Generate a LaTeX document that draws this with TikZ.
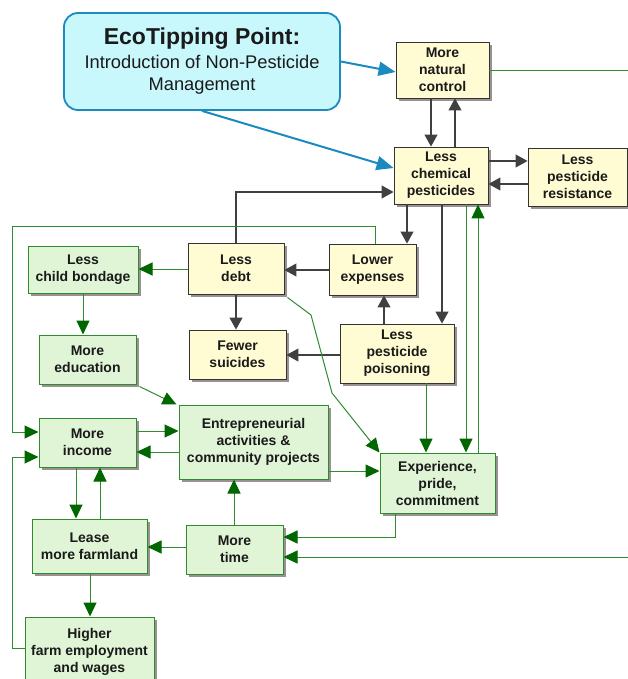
\documentclass[tikz,border=0pt]{standalone}
\usepackage{fontspec}
\setmainfont{Liberation Sans}
\usetikzlibrary{arrows.meta,shadows}
\definecolor{yfill}{HTML}{FFFBD2}
\definecolor{gfill}{HTML}{E0F5D6}
\definecolor{gborder}{HTML}{2E8B2E}
\definecolor{gline}{HTML}{2E8B2E}
\definecolor{ghead}{HTML}{006600}
\definecolor{dline}{HTML}{404040}
\definecolor{bline}{HTML}{1A8ABF}
\definecolor{ecofill}{HTML}{C8F8FC}
\definecolor{shadowc}{HTML}{9A9292}
\definecolor{txt}{HTML}{1A1A1A}
\begin{document}
\begin{tikzpicture}[x=1pt,y=-1pt,
  box/.style={rectangle, inner sep=0pt, align=center, text=txt,
    font=\fontsize{14}{17}\selectfont\bfseries,
    drop shadow={shadow xshift=3pt,shadow yshift=-3pt,fill=shadowc,opacity=1}},
  ybox/.style={box, fill=yfill, draw=black!80, line width=0.9pt},
  gbox/.style={box, fill=gfill, draw=gborder, line width=1pt},
  darr/.style={draw=dline, line width=1.1pt, -{Triangle[length=12pt,width=13pt]}},
  garr/.style={draw=gline, line width=1pt, -{Triangle[length=14pt,width=13pt,color=ghead]}},
  gplain/.style={draw=gline, line width=1pt},
  barr/.style={draw=bline, line width=2pt, -{Triangle[length=17pt,width=14pt]}}
]
\useasboundingbox (0,0) rectangle (628,679);
\clip (0,0) rectangle (628,679);

% callout
\node[draw=bline, fill=ecofill, rounded corners=14pt, line width=1.8pt,
  minimum width=276pt, minimum height=97pt, inner sep=0pt, align=center,
  text=txt, font=\fontsize{18.3}{22}\selectfont] (eco) at (202,61.5)
  {{\fontsize{23}{25}\selectfont\bfseries EcoTipping Point:}\\[2pt]Introduction of Non-Pesticide\\Management};

% yellow nodes
\node[ybox, minimum width=93pt, minimum height=56pt] (nat) at (442.5,70) {More\\natural\\control};
\node[ybox, minimum width=94pt, minimum height=57pt] (chem) at (441,175.5) {Less\\chemical\\pesticides};
\node[ybox, minimum width=99pt, minimum height=58pt] (res) at (577.5,177) {Less\\pesticide\\resistance};
\node[ybox, minimum width=96pt, minimum height=51pt] (debt) at (236,268.5) {Less\\debt};
\node[ybox, minimum width=87pt, minimum height=51pt] (exp) at (372.5,269.5) {Lower\\expenses};
\node[ybox, minimum width=97pt, minimum height=49pt] (sui) at (237.5,354.5) {Fewer\\suicides};
\node[ybox, minimum width=114pt, minimum height=59pt] (pois) at (397,353.5) {Less\\pesticide\\poisoning};

% green nodes
\node[gbox, minimum width=110pt, minimum height=47pt] (child) at (83,269.5) {Less\\child bondage};
\node[gbox, minimum width=97pt, minimum height=49pt] (edu) at (87.5,359.5) {More\\education};
\node[gbox, minimum width=97pt, minimum height=49pt] (inc) at (87.5,442.5) {More\\income};
\node[gbox, minimum width=149pt, minimum height=74pt] (ent) at (253.5,442) {Entrepreneurial\\activities \&\\community projects};
\node[gbox, minimum width=115pt, minimum height=60pt] (expc) at (437.5,483) {Experience,\\pride,\\commitment};
\node[gbox, minimum width=115pt, minimum height=54pt] (lease) at (89.5,546) {Lease\\more farmland};
\node[gbox, minimum width=97pt, minimum height=49pt] (time) at (234.5,549.5) {More\\time};
\node[gbox, minimum width=129pt, minimum height=70pt] (high) at (89.5,652) {Higher\\farm employment\\and wages};

\coordinate (rt) at (628,71);
\coordinate (rb) at (628,557);

% blue arrows
\draw[barr] (eco.east) -- (nat.west |- 0,72);
\draw[barr] (eco.south) -- (chem.west |- 0,168);

% dark arrows
\draw[darr] (nat.south -| 431,0) -- (chem.north -| 431,0);
\draw[darr] (chem.north -| 455,0) -- (nat.south -| 455,0);
\draw[darr] (chem.east |- 0,161) -- (res.west |- 0,161);
\draw[darr] (res.west |- 0,184) -- (chem.east |- 0,184);
\draw[darr] (debt.north) |- (chem.west |- 0,192);
\draw[darr] (chem.south -| 407,0) -- (exp.north -| 407,0);
\draw[darr] (chem.south -| 442,0) -- (pois.north -| 442,0);
\draw[darr] (exp.west |- 0,270) -- (debt.east |- 0,270);
\draw[darr] (pois.north -| 384,0) -- (exp.south -| 384,0);
\draw[darr] (pois.west |- 0,355) -- (sui.east |- 0,355);
\draw[darr] (debt.south) -- (sui.north -| debt.south);

% green arrows
\draw[garr] (pois.south -| 426,0) -- (expc.north -| 426,0);
\draw[garr] (chem.south -| 466,0) -- (expc.north -| 466,0);
\draw[garr] (expc.north -| 478,0) -- (chem.south -| 478,0);
\draw[garr] (debt.west |- 0,269) -- (child.east |- 0,269);
\draw[garr] (child.south -| 83,0) -- (edu.north -| 83,0);
\draw[garr] ([xshift=3pt,yshift=-2pt]edu.south east) -- ([xshift=-2pt]ent.north west);
\draw[garr] (exp.north -| 375,0) -- (375,226) -- (12,226) |- (inc.west |- 0,432);
\draw[garr] ([xshift=3pt,yshift=-3pt]debt.south east) -- (311,315) -- (332,393) -- (expc.north west);
\draw[garr] (inc.east |- 0,431) -- (ent.west |- 0,431);
\draw[garr] (ent.west |- 0,452) -- (inc.east |- 0,452);
\draw[garr] (ent.east |- 0,471) -- (expc.west |- 0,471);
\draw[garr] (inc.south -| 76,0) -- (lease.north -| 76,0);
\draw[garr] (lease.north -| 100,0) -- (inc.south -| 100,0);
\draw[garr] (time.west |- 0,547) -- (lease.east |- 0,547);
\draw[garr] (time.north -| 234,0) -- (ent.south -| 234,0);
\draw[garr] (lease.south -| 90,0) -- (high.north -| 90,0);
\draw[garr] (high.west |- 0,648) -| (12,457) -- (inc.west |- 0,457);
\draw[garr] (expc.south -| 395,0) |- (time.east |- 0,537);
\draw[gplain] (nat.east |- 0,71) -- (rt);
\draw[garr] (rb) -- (time.east |- 0,557);
\end{tikzpicture}
\end{document}
